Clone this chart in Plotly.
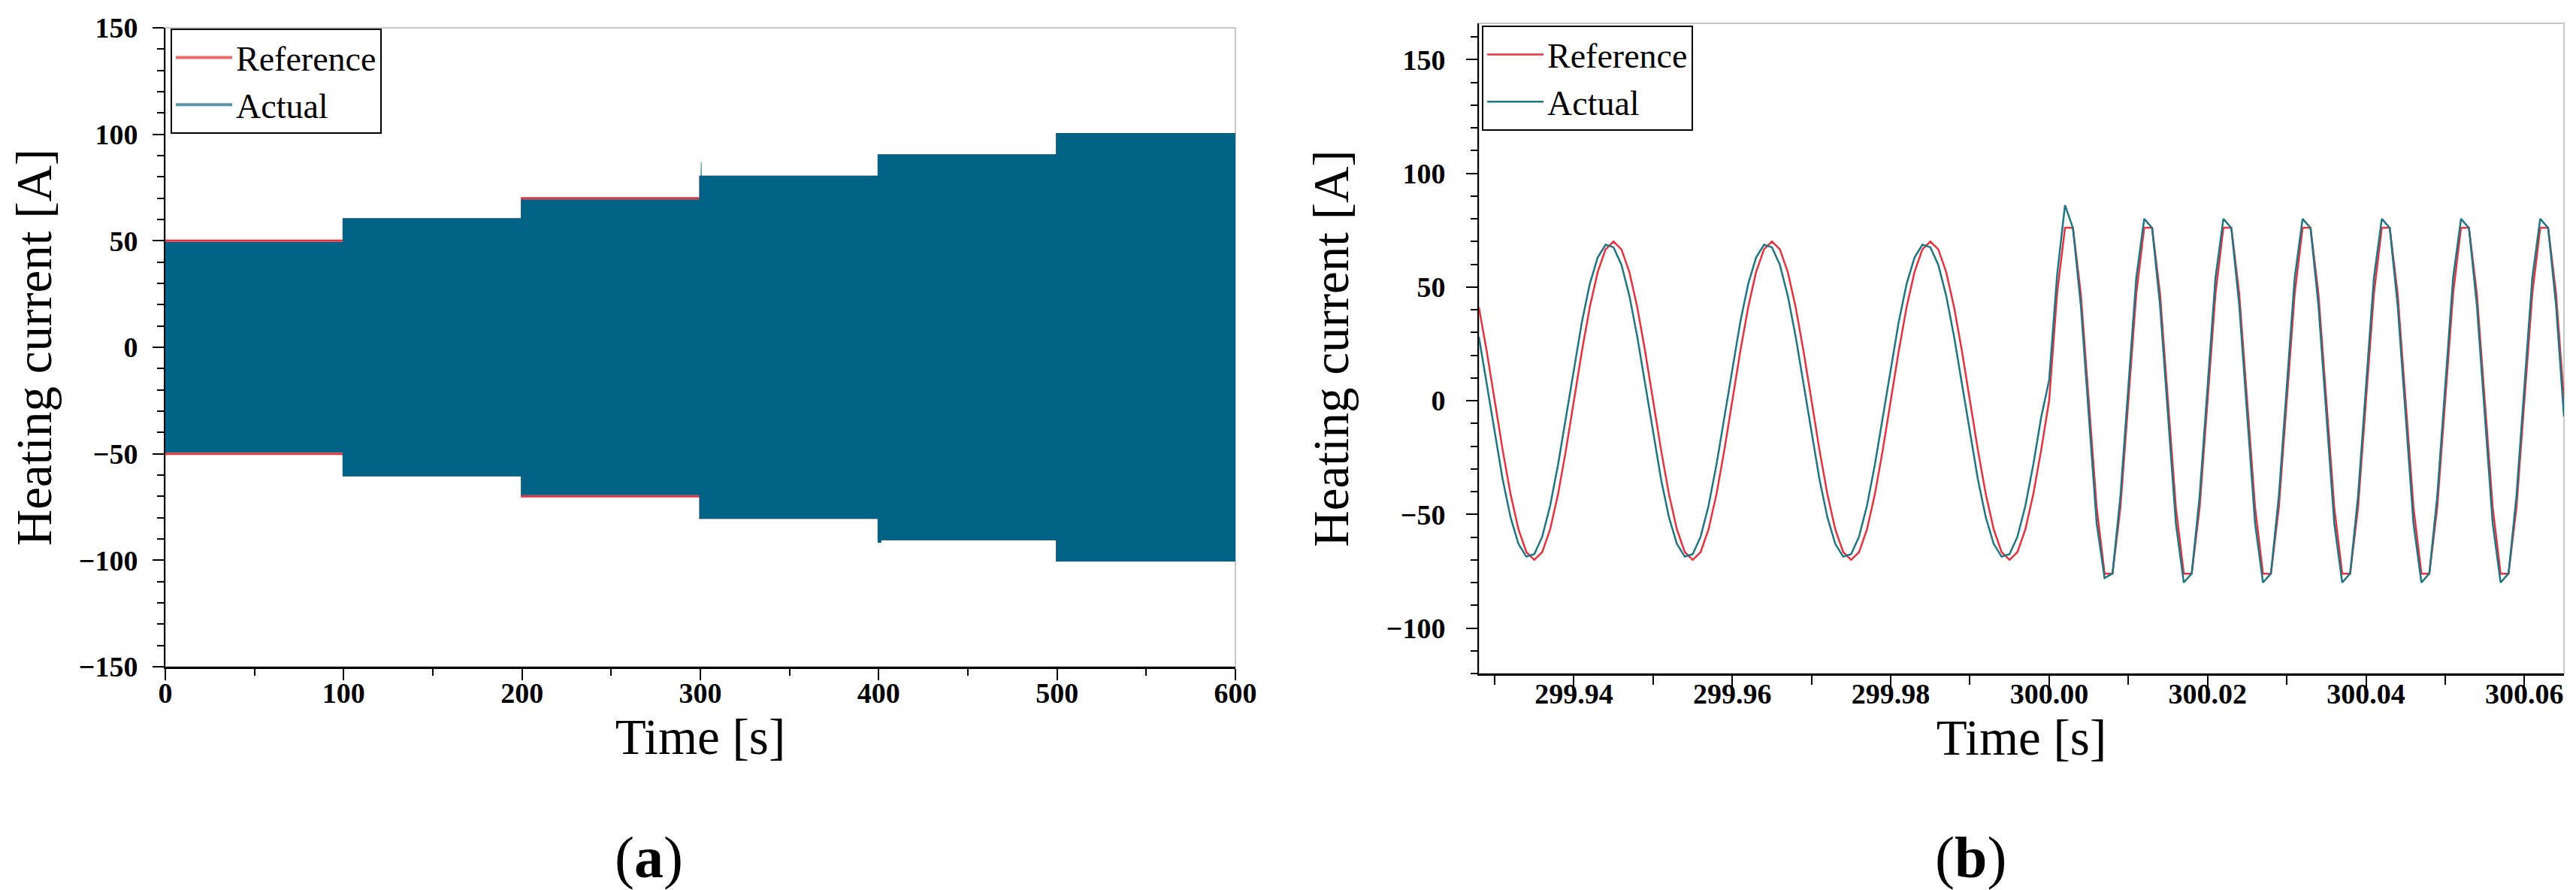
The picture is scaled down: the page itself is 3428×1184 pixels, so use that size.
import numpy as np
import plotly.graph_objects as go

# ---- panel (a): whole run, 0..600 s ----
seg_t = [0, 100, 200, 300, 400, 500, 600]
ref_level = [50, 60, 70, 80, 90, 100]

# envelope of the measured current (the 50/100 Hz wave is too dense to resolve)
hi_t = [0, 99.4, 99.4, 199.4, 199.4, 299.4, 299.4, 300.2, 300.3, 300.6, 300.7, 399.4, 399.4, 499.4, 499.4, 600]
hi_v = [49.4, 49.4, 60.6, 60.6, 69.4, 69.4, 80.6, 80.6, 87.0, 87.0, 80.6, 80.6, 90.6, 90.6, 100.6, 100.6]
lo_t = [0, 99.4, 99.4, 199.4, 199.4, 299.4, 299.4, 399.4, 399.4, 401.5, 401.5, 499.4, 499.4, 600]
lo_v = [-49.4, -49.4, -60.6, -60.6, -69.4, -69.4, -80.6, -80.6, -91.8, -91.8, -90.6, -90.6, -100.6, -100.6]

# ---- panel (b): zoom around the step at 300 s, 1 kHz samples ----
t0 = 299.928
dt = 0.001
ref_b = [
    41.1, 21.6, 0.0, -21.6, -41.1, -56.6, -66.6, -70.0, -66.6, -56.6, -41.1, -21.6,
    0.0, 21.6, 41.1, 56.6, 66.6, 70.0, 66.6, 56.6, 41.1, 21.6, 0.0, -21.6, -41.1, -56.6, -66.6, -70.0, -66.6, -56.6, -41.1, -21.6,
    0.0, 21.6, 41.1, 56.6, 66.6, 70.0, 66.6, 56.6, 41.1, 21.6, 0.0, -21.6, -41.1, -56.6, -66.6, -70.0, -66.6, -56.6, -41.1, -21.6,
    0.0, 21.6, 41.1, 56.6, 66.6, 70.0, 66.6, 56.6, 41.1, 21.6, 0.0, -21.6, -41.1, -56.6, -66.6, -70.0, -66.6, -56.6, -41.1, -21.6,
    0.0, 47.0, 76.1, 76.1, 47.0, 0.0, -47.0, -76.1, -76.1, -47.0,
    0.0, 47.0, 76.1, 76.1, 47.0, 0.0, -47.0, -76.1, -76.1, -47.0,
    0.0, 47.0, 76.1, 76.1, 47.0, 0.0, -47.0, -76.1, -76.1, -47.0,
    0.0, 47.0, 76.1, 76.1, 47.0, 0.0, -47.0, -76.1, -76.1, -47.0,
    0.0, 47.0, 76.1, 76.1, 47.0, 0.0, -47.0, -76.1, -76.1, -47.0,
    0.0, 47.0, 76.1, 76.1, 47.0, 0.0, -47.0, -76.1, -76.1, -47.0,
    0.0, 47.0, 76.1, 76.1, 47.0, 0.0,
]
act_b = [
    28.1, 7.2, -14.3, -34.5, -51.3, -63.0, -68.6, -67.5, -59.8, -46.2, -28.1, -7.2,
    14.3, 34.5, 51.3, 63.0, 68.6, 67.5, 59.8, 46.2, 28.1, 7.2, -14.3, -34.5, -51.3, -63.0, -68.6, -67.5, -59.8, -46.2, -28.1, -7.2,
    14.3, 34.5, 51.3, 63.0, 68.6, 67.5, 59.8, 46.2, 28.1, 7.2, -14.3, -34.5, -51.3, -63.0, -68.6, -67.5, -59.8, -46.2, -28.1, -7.2,
    14.3, 34.5, 51.3, 63.0, 68.6, 67.5, 59.8, 46.2, 28.1, 7.2, -14.3, -34.5, -51.3, -63.0, -68.6, -67.5, -59.8, -46.2, -28.1, -7.2,
    9.0, 55.0, 86.0, 76.0, 42.0, -7.0, -54.0, -78.0, -76.0, -42.0,
    7.0, 54.0, 80.0, 76.0, 42.0, -7.0, -54.0, -80.0, -76.0, -42.0,
    7.0, 54.0, 80.0, 76.0, 42.0, -7.0, -54.0, -80.0, -76.0, -42.0,
    7.0, 54.0, 80.0, 76.0, 42.0, -7.0, -54.0, -80.0, -76.0, -42.0,
    7.0, 54.0, 80.0, 76.0, 42.0, -7.0, -54.0, -80.0, -76.0, -42.0,
    7.0, 54.0, 80.0, 76.0, 42.0, -7.0, -54.0, -80.0, -76.0, -42.0,
    7.0, 54.0, 80.0, 76.0, 42.0, -7.0,
]
t_b = np.round(t0 + dt * np.arange(len(ref_b)), 3)

RED = "#e5323f"
BLUE_FILL = "#006386"
BLUE_LINE = "#1f7682"
FONT = "Liberation Serif"

W, H = 3428, 1184

fig = go.Figure()

# reference envelope outline (a) - base axis, so the band sits on top of it
ref_x, ref_top, ref_bot = [], [], []
for i, lev in enumerate(ref_level):
    ref_x += [seg_t[i], seg_t[i + 1]]
    ref_top += [lev, lev]
    ref_bot += [-lev, -lev]
fig.add_trace(go.Scatter(
    x=ref_x + ref_x[::-1] + [ref_x[0]], y=ref_top + ref_bot[::-1] + [ref_top[0]],
    mode="lines", line=dict(color=RED, width=3), showlegend=False,
    xaxis="x", yaxis="y", hoverinfo="skip"))

# legend entries for (a)
fig.add_trace(go.Scatter(x=[None], y=[None], mode="lines", name="Reference",
                         line=dict(color="#f06868", width=4), legend="legend",
                         xaxis="x", yaxis="y"))
fig.add_trace(go.Scatter(x=[None], y=[None], mode="lines", name="Actual",
                         line=dict(color="#5897ab", width=4), legend="legend",
                         xaxis="x", yaxis="y"))

# actual current band (a), on an overlaying axis so it is drawn above the red line
fig.add_trace(go.Scatter(
    x=hi_t + lo_t[::-1], y=hi_v + lo_v[::-1], fill="toself",
    mode="lines", line=dict(color=BLUE_FILL, width=0), fillcolor=BLUE_FILL,
    showlegend=False, xaxis="x", yaxis="y3", hoverinfo="skip"))

# (b) traces
fig.add_trace(go.Scatter(x=t_b, y=ref_b, mode="lines", name="Reference",
                         line=dict(color=RED, width=2.5), legend="legend2",
                         xaxis="x2", yaxis="y2"))
fig.add_trace(go.Scatter(x=t_b, y=act_b, mode="lines", name="Actual",
                         line=dict(color=BLUE_LINE, width=2.5), legend="legend2",
                         xaxis="x2", yaxis="y2"))

tick_font = dict(family=FONT, size=38, color="black", weight="bold")
title_font = dict(family=FONT, size=67, color="black")
common = dict(showgrid=False, zeroline=False, showline=True, linecolor="black",
              ticks="outside", ticklen=15, tickwidth=2, tickcolor="black",
              tickfont=tick_font, automargin=False)

fig.update_layout(
    width=W, height=H,
    margin=dict(l=0, r=0, t=0, b=0),
    paper_bgcolor="white", plot_bgcolor="white",
    font=dict(family=FONT, color="black"),
    xaxis=dict(domain=[212 / W, 1636 / W], anchor="y", range=[0, 600],
               dtick=100, linewidth=3, ticklabelstandoff=-16,
               title=dict(text="Time [s]", font=title_font, standoff=12),
               minor=dict(dtick=50, ticks="outside", ticklen=9, tickcolor="black", tickwidth=2),
               **common),
    yaxis=dict(domain=[1 - 879 / H, 1 - 29 / H], anchor="x", range=[-150, 150],
               dtick=50, linewidth=2, ticklabelstandoff=12,
               title=dict(text="Heating current [A]", font=title_font, standoff=28),
               minor=dict(dtick=10, ticks="outside", ticklen=9, tickcolor="black", tickwidth=2),
               **common),
    yaxis3=dict(overlaying="y", range=[-150, 150], visible=False, showgrid=False,
                zeroline=False),
    xaxis2=dict(domain=[1960 / W, 3404 / W], anchor="y2", range=[299.928, 300.065],
                tick0=299.94, dtick=0.02, tickformat=".2f", linewidth=3, ticklabelstandoff=-24,
                title=dict(text="Time [s]", font=title_font, standoff=14),
                minor=dict(dtick=0.01, ticks="outside", ticklen=12, tickcolor="black", tickwidth=2),
                **common),
    yaxis2=dict(domain=[1 - 888 / H, 1 - 23 / H], anchor="x2", range=[-120, 166],
                tick0=0, dtick=50, linewidth=2, ticklabelstandoff=20,
                title=dict(text="Heating current [A]", font=title_font, standoff=28),
                minor=dict(dtick=10, ticks="outside", ticklen=9, tickcolor="black", tickwidth=2),
                **common),
    legend=dict(x=219 / W, y=1 - 30 / H, xanchor="left", yanchor="top",
                bgcolor="white", bordercolor="black", borderwidth=2,
                font=dict(family=FONT, size=46, color="black"), itemwidth=75,
                tracegroupgap=0),
    legend2=dict(x=1964 / W, y=1 - 26 / H, xanchor="left", yanchor="top",
                 bgcolor="white", bordercolor="black", borderwidth=2,
                 font=dict(family=FONT, size=46, color="black"), itemwidth=75,
                 tracegroupgap=0),
)

# light grey frame on top/right of each plot
for xr, yr in [("x", "y"), ("x2", "y2")]:
    fig.add_shape(type="rect", xref=xr + " domain", yref=yr + " domain",
                  x0=0, x1=1, y0=0, y1=1, line=dict(color="#c8c8c8", width=2),
                  layer="below")

# panel labels
label_font = dict(family=FONT, size=78, color="black")
fig.add_annotation(text="(<b>a</b>)", x=855 / W, y=1 - 1132 / H, xref="paper", yref="paper",
                   showarrow=False, font=label_font, xanchor="center", yanchor="middle")
fig.add_annotation(text="(<b>b</b>)", x=2614 / W, y=1 - 1132 / H, xref="paper", yref="paper",
                   showarrow=False, font=label_font, xanchor="center", yanchor="middle")

fig.write_html("out.html")
